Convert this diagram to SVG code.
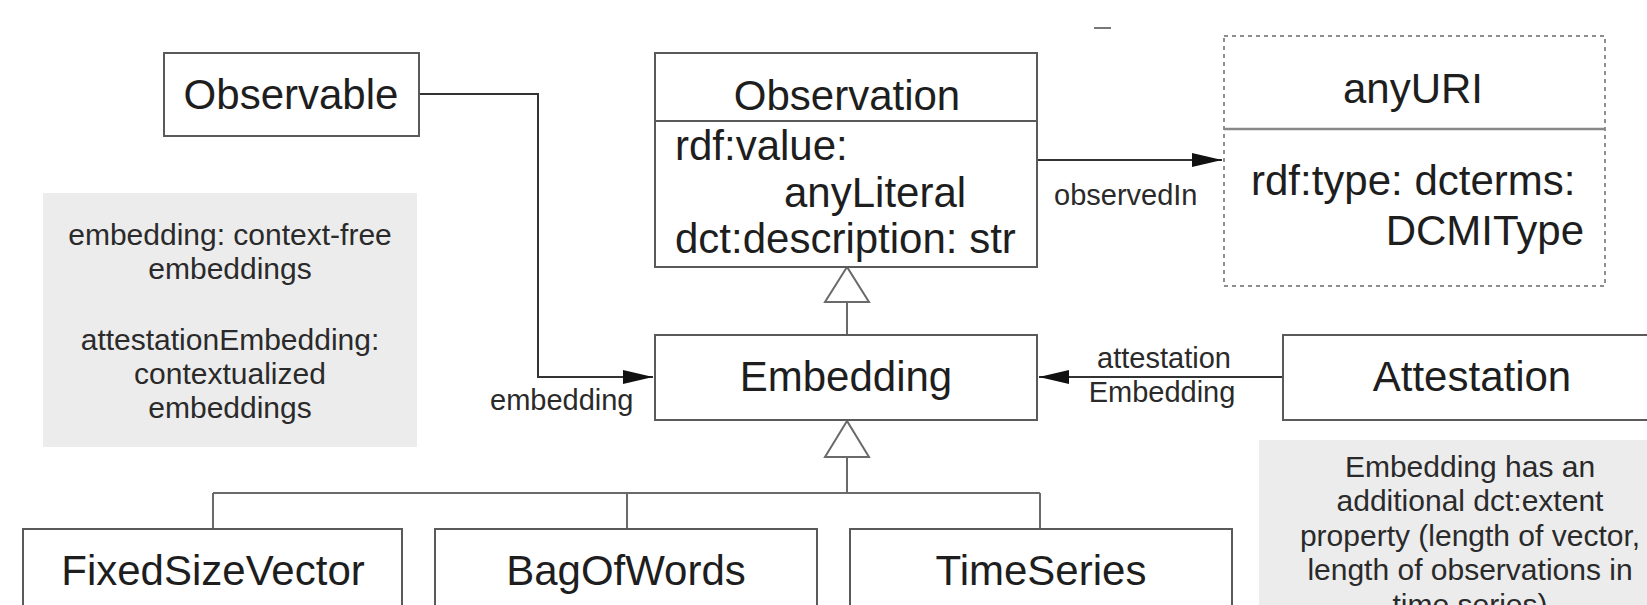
<svg xmlns="http://www.w3.org/2000/svg" width="1647" height="605" viewBox="0 0 1647 605">
<style>
.box{fill:#ffffff;stroke:#5a5a5a;stroke-width:2}
.dash{fill:#ffffff;stroke:#6a6a6a;stroke-width:1.5;stroke-dasharray:4 4}
.note{fill:#ececec;stroke:none}
.t{font-family:"Liberation Sans",Arial,sans-serif;font-size:42px;fill:#1e1e1e}
.n{font-family:"Liberation Sans",Arial,sans-serif;font-size:30px;fill:#2a2a2a;text-anchor:middle}
.l{font-family:"Liberation Sans",Arial,sans-serif;font-size:29px;fill:#2a2a2a}
.c{fill:none;stroke:#333333;stroke-width:2}
.g{fill:none;stroke:#6a6a6a;stroke-width:2}
.tri{fill:#ffffff;stroke:#6a6a6a;stroke-width:2}
.mid{text-anchor:middle}
</style>
<defs>
<marker id="arr" markerUnits="userSpaceOnUse" markerWidth="32" markerHeight="16" refX="30" refY="7" orient="auto">
<path d="M0,0 L30,7 L0,14 z" fill="#111111"/>
</marker>
</defs>
<rect x="0" y="0" width="1647" height="605" fill="#ffffff"/>
<line x1="1094" y1="28" x2="1111" y2="28" stroke="#777" stroke-width="2"/>

<g id="note-left">
<rect class="note" x="43" y="193" width="374" height="254"/>
<text class="n" x="230" y="245">embedding: context-free</text>
<text class="n" x="230" y="279">embeddings</text>
<text class="n" x="230" y="350">attestationEmbedding:</text>
<text class="n" x="230" y="384">contextualized</text>
<text class="n" x="230" y="418">embeddings</text>
</g>

<g id="note-right">
<rect class="note" x="1259" y="440" width="400" height="180"/>
<text class="n" x="1470" y="477">Embedding has an</text>
<text class="n" x="1470" y="511">additional dct:extent</text>
<text class="n" x="1470" y="546">property (length of vector,</text>
<text class="n" x="1470" y="580">length of observations in</text>
<text class="n" x="1470" y="615">time series)</text>
</g>

<g id="connectors">
<path class="c" d="M419,94 H538 V377 H653" marker-end="url(#arr)"/>
<path class="c" d="M1037,160 H1222" marker-end="url(#arr)"/>
<path class="c" d="M1283,377 H1039" marker-end="url(#arr)"/>
<line class="g" x1="847" y1="302" x2="847" y2="335"/>
<polygon class="tri" points="847,267 825,302 869,302"/>
<path class="g" d="M847,457 V493 M213,493 H1040 M213,493 V529 M627,493 V529 M1040,493 V529"/>
<polygon class="tri" points="847,421 825,457 869,457"/>
<text class="l" x="1054" y="205">observedIn</text>
<text class="l" x="490" y="410">embedding</text>
<text class="l mid" x="1164" y="368">attestation</text>
<text class="l mid" x="1162" y="402">Embedding</text>
</g>

<g id="observable">
<rect class="box" x="164" y="53" width="255" height="83"/>
<text class="t mid" x="291" y="109">Observable</text>
</g>

<g id="observation">
<rect class="box" x="655" y="53" width="382" height="214"/>
<line x1="655" y1="121" x2="1037" y2="121" stroke="#5a5a5a" stroke-width="2"/>
<text class="t mid" x="847" y="110">Observation</text>
<text class="t" x="675" y="160">rdf:value:</text>
<text class="t" x="784" y="207">anyLiteral</text>
<text class="t" x="675" y="253">dct:description: str</text>
</g>

<g id="anyURI">
<rect class="dash" x="1224" y="36" width="381" height="250"/>
<line x1="1224" y1="129" x2="1605" y2="129" stroke="#888" stroke-width="2.5"/>
<text class="t mid" x="1413" y="103">anyURI</text>
<text class="t" x="1251" y="195">rdf:type: dcterms:</text>
<text class="t" x="1584" y="245" text-anchor="end">DCMIType</text>
</g>

<g id="embedding">
<rect class="box" x="655" y="335" width="382" height="85"/>
<text class="t mid" x="846" y="391">Embedding</text>
</g>

<g id="attestation">
<rect class="box" x="1283" y="335" width="400" height="85"/>
<text class="t mid" x="1472" y="391">Attestation</text>
</g>

<g id="fixedsizevector">
<rect class="box" x="23" y="529" width="379" height="120"/>
<text class="t mid" x="213" y="585">FixedSizeVector</text>
</g>

<g id="bagofwords">
<rect class="box" x="435" y="529" width="382" height="120"/>
<text class="t mid" x="626" y="585">BagOfWords</text>
</g>

<g id="timeseries">
<rect class="box" x="850" y="529" width="382" height="120"/>
<text class="t mid" x="1041" y="585">TimeSeries</text>
</g>
</svg>
